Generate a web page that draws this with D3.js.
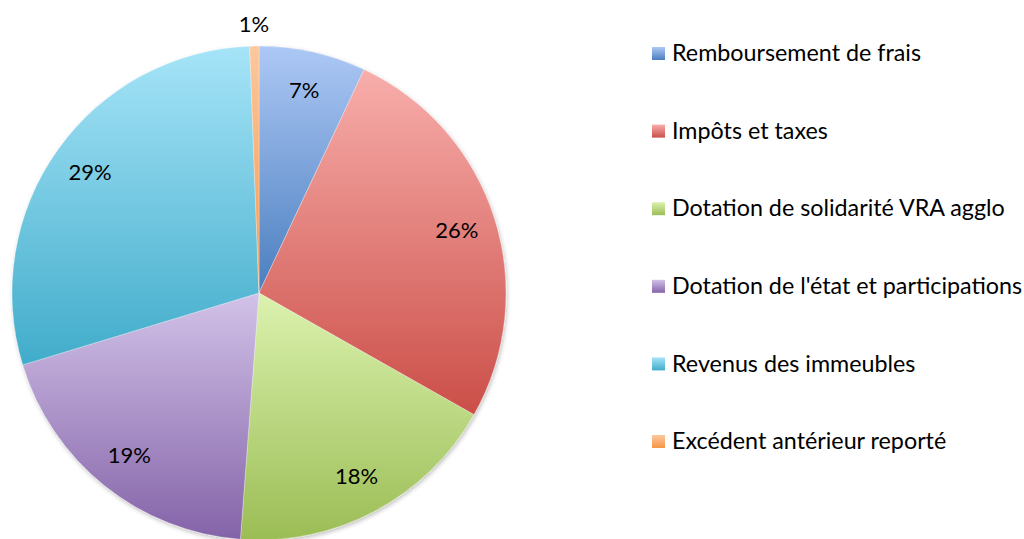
<!DOCTYPE html>
<html>
<head>
<meta charset="utf-8">
<script src="https://cdn.jsdelivr.net/npm/d3@7"></script>
<style>
  body { margin: 0; background: #fff; }
  text { font-family: Lato, "Open Sans", sans-serif; fill: #000; }
</style>
</head>
<body>
<div id="chart"></div>
<script>
// data
const categories = ['Remboursement de frais', 'Impôts et taxes', 'Dotation de solidarité VRA agglo',
    "Dotation de l'état et participations", 'Revenus des immeubles', 'Excédent antérieur reporté'];
const values = [7.0, 26.2, 18.0, 19.1, 29.1, 0.6];
const labels = ['7%', '26%', '18%', '19%', '29%', '1%'];

// Office 2007 style colours: light top, darker bottom
const colorsLight = ['#adc8f5', '#f8aeab', '#dbf2ae', '#d2c2e8', '#a6e4f8', '#fcc89e'];
const colorsDark = ['#4a7ebf', '#cb4e48', '#9bbd55', '#8463a8', '#41acca', '#f79646'];

const width = 1024, height = 539;
const cx = 259, cy = 293, radius = 247;

const svg = d3.select('#chart').append('svg')
    .attr('width', width).attr('height', height);

const defs = svg.append('defs');
categories.forEach((c, i) => {
    const g = defs.append('linearGradient')
        .attr('id', 'grad' + i)
        .attr('x1', 0).attr('y1', 0).attr('x2', 0).attr('y2', 1);
    g.append('stop').attr('offset', '0%').attr('stop-color', colorsLight[i]);
    g.append('stop').attr('offset', '100%').attr('stop-color', colorsDark[i]);
});

const shadow = defs.append('filter').attr('id', 'shadow')
    .attr('x', '-10%').attr('y', '-10%').attr('width', '120%').attr('height', '120%');
shadow.append('feDropShadow')
    .attr('dx', 1).attr('dy', 2).attr('stdDeviation', 2)
    .attr('flood-color', '#000').attr('flood-opacity', 0.25);

const pie = d3.pie().sort(null).value(d => d);
const arcs = pie(values);
const arc = d3.arc().innerRadius(0).outerRadius(radius);
const labelArc = d3.arc().innerRadius(radius * 0.84).outerRadius(radius * 0.84);
const outerLabelArc = d3.arc().innerRadius(radius * 1.09).outerRadius(radius * 1.09);

const chart = svg.append('g')
    .attr('transform', `translate(${cx},${cy})`);

chart.append('g')
    .attr('filter', 'url(#shadow)')
    .selectAll('path')
    .data(arcs)
    .join('path')
    .attr('d', arc)
    .attr('fill', (d, i) => `url(#grad${i})`)
    .attr('stroke', 'rgba(255,255,255,0.5)')
    .attr('stroke-width', 0.6);

chart.selectAll('text.lbl')
    .data(arcs)
    .join('text')
    .classed('lbl', true)
    .attr('transform', d => {
        const p = (d.data < 3 ? outerLabelArc : labelArc).centroid(d);
        return `translate(${p[0]},${p[1]})`;
    })
    .attr('text-anchor', 'middle')
    .attr('dy', '0.35em')
    .style('font-size', '22px')
    .text((d, i) => labels[i]);

// legend
const legend = svg.append('g')
    .attr('transform', 'translate(652,53)');
const rowH = 77.6;
const rows = legend.selectAll('g')
    .data(categories)
    .join('g')
    .attr('transform', (d, i) => `translate(0,${i * rowH})`);
rows.append('rect')
    .attr('x', 0).attr('y', -6)
    .attr('width', 13).attr('height', 13)
    .attr('fill', (d, i) => `url(#grad${i})`);
rows.append('text')
    .attr('x', 20)
    .attr('dy', '0.35em')
    .style('font-size', '23.3px')
    .text(d => d);
</script>
</body>
</html>
